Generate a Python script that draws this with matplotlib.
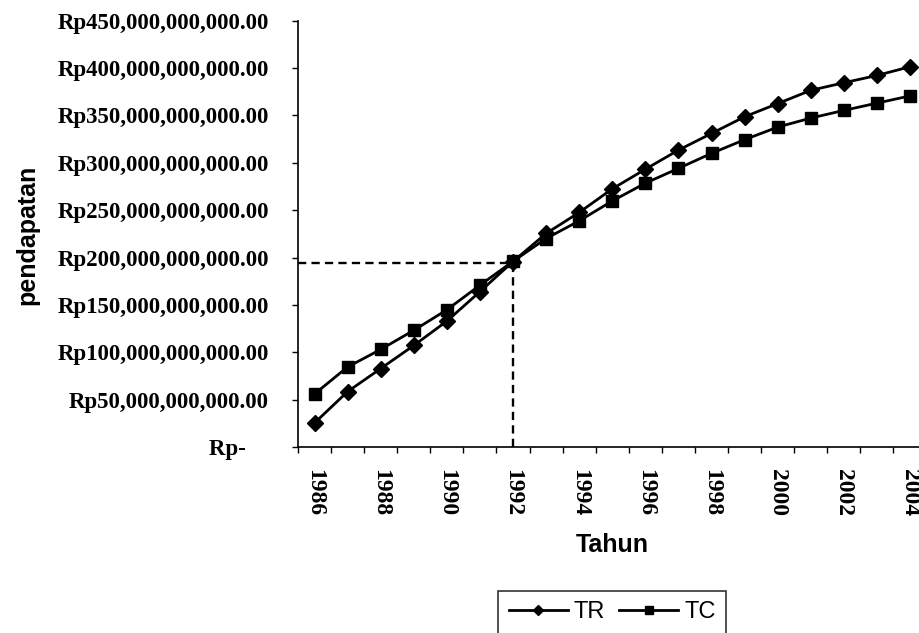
import matplotlib.pyplot as plt
from matplotlib.ticker import FuncFormatter, FixedLocator
import numpy as np

# data (pendapatan in Rp, in billions)
years = list(range(1986, 2005))
tr_values = [25.4, 58.5, 82.8, 107.2, 132.9, 164.0, 195.8, 225.4, 247.6, 272.5,
             293.2, 313.4, 331.0, 348.6, 362.5, 376.5, 384.5, 392.2, 401.4]
tc_values = [56.0, 84.5, 103.0, 123.2, 144.8, 170.8, 196.0, 220.1, 238.7, 259.7,
             278.5, 294.1, 310.0, 324.4, 337.7, 347.2, 355.3, 363.0, 370.6]
bep_year = 1992
bep_value = 194.5
year_labels = [str(y) for y in years[::2]]

tr = np.array(tr_values) * 1e9
tc = np.array(tc_values) * 1e9
x = np.arange(len(years))

fig = plt.figure(figsize=(9.2, 6.33), dpi=100)
ax = fig.add_axes([0.3239, 0.2938, 0.6832, 0.6735])

ax.plot(x, tr, color="black", lw=2, marker="D", ms=8, label="TR")
ax.plot(x, tc, color="black", lw=2, marker="s", ms=8.5, label="TC")

# break-even guide lines
bx = years.index(bep_year)
ax.plot([-0.5, bx], [bep_value * 1e9] * 2, color="black", lw=1.7, ls=(0, (3.5, 2.2)))
ax.plot([bx, bx], [0, bep_value * 1e9], color="black", lw=1.7, ls=(0, (3.5, 2.2)))

ax.set_xlim(-0.5, len(years) - 0.5)
ax.set_ylim(0, 450e9)

for s in ["top", "right"]:
    ax.spines[s].set_visible(False)
for s in ["left", "bottom"]:
    ax.spines[s].set_linewidth(1.2)

# y axis
ax.set_yticks(np.arange(0, 451e9, 50e9))
def rp(v, pos):
    if v == 0:
        return "Rp-    "
    return "Rp{:,.2f}".format(v)
ax.yaxis.set_major_formatter(FuncFormatter(rp))
ax.tick_params(axis="y", direction="out", length=4, width=1, pad=17)
for t in ax.get_yticklabels():
    t.set_fontfamily("Liberation Serif")
    t.set_fontweight("bold")
    t.set_fontsize(16.5)

# x axis: tick marks between categories, labels every other year
ax.xaxis.set_major_locator(FixedLocator(np.arange(-0.5, len(years), 1.0)))
ax.xaxis.set_major_formatter(FuncFormatter(lambda v, p: ""))
ax.xaxis.set_minor_locator(FixedLocator(x[::2]))
ax.set_xticklabels(year_labels, minor=True, rotation=-90,
                   fontfamily="Liberation Serif", fontweight="bold", fontsize=17)
ax.tick_params(axis="x", which="major", direction="out", length=4, width=1)
ax.tick_params(axis="x", which="minor", length=0, pad=16)

ax.set_xlabel("Tahun", fontfamily="Liberation Sans", fontweight="bold",
              fontsize=18, labelpad=12)
fig.text(27 / 920, 1 - 235 / 633, "pendapatan", rotation=90, ha="center", va="center",
         fontfamily="Liberation Sans", fontweight="bold", fontsize=18)

leg = ax.legend(loc="upper center", bbox_to_anchor=(612 / 920, 54 / 633),
                bbox_transform=fig.transFigure, ncol=2, frameon=True, fancybox=False,
                edgecolor="black", prop={"family": "Liberation Sans", "size": 17},
                handlelength=2.5, handletextpad=0.25, columnspacing=0.6,
                borderpad=0.45, markerscale=0.7)
leg.get_frame().set_linewidth(1.2)

fig.savefig("out.png", dpi=100)
